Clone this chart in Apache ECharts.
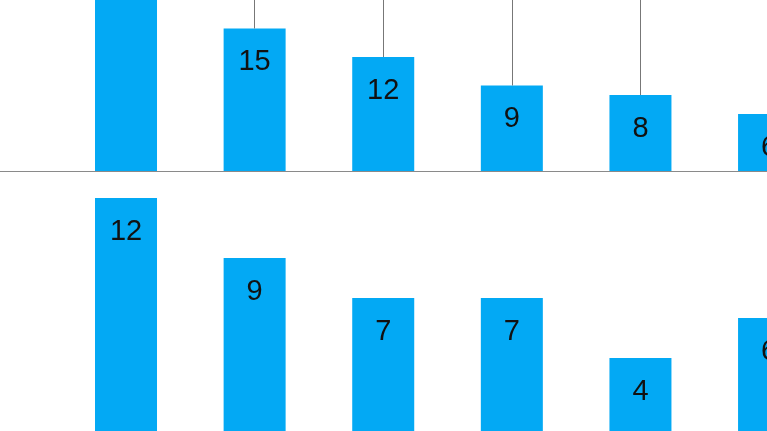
<!DOCTYPE html>
<html>
<head>
<meta charset="utf-8">
<script src="https://cdn.jsdelivr.net/npm/echarts@6/dist/echarts.min.js"></script>
<style>
html,body{margin:0;padding:0;background:#fff;}
#chart{width:767px;height:431px;}
</style>
</head>
<body>
<div id="chart"></div>
<script>
// category positions (1-based slots, the view shows slots 1..6)
const categories = [1, 2, 3, 4, 5, 6];
const topValues = [25, 15, 12, 9, 8, 6];
const bottomValues = [12, 9, 7, 7, 4, 6];
const topMax = 18;
const bottomMin = 0.35;   // the bottom panel's baseline lies just below the visible area
const bottomMax = 13;

const barColor = '#03A9F4';
const labelStyle = {
  show: true,
  position: 'insideTop',
  distance: 19,
  color: '#111',
  fontSize: 29,
  fontFamily: '"Liberation Sans Narrow", "Liberation Sans", Arial, sans-serif'
};

const chart = echarts.init(document.getElementById('chart'), null, {renderer: 'canvas'});

const xAxisBase = {
  type: 'value', min: 0.0202, max: 5.984,
  axisLabel: {show: false}, axisTick: {show: false}, splitLine: {show: false}
};

chart.setOption({
  animation: false,
  grid: [
    {left: 0, right: 0, top: 0, height: 171},
    {left: 0, right: 0, top: 178, bottom: 0}
  ],
  xAxis: [
    Object.assign({gridIndex: 0, axisLine: {show: true, lineStyle: {color: '#8a8a8a', width: 1.2}}}, xAxisBase),
    Object.assign({gridIndex: 1, axisLine: {show: false}}, xAxisBase)
  ],
  yAxis: [
    {gridIndex: 0, type: 'value', min: 0, max: topMax, show: false, splitLine: {show: false}},
    {gridIndex: 1, type: 'value', min: bottomMin, max: bottomMax, show: false, splitLine: {show: false}}
  ],
  series: [
    {
      type: 'bar', xAxisIndex: 0, yAxisIndex: 0, clip: false,
      barWidth: 62,
      itemStyle: {color: barColor},
      label: labelStyle,
      data: categories.map((c, i) => [c, topValues[i]]),
      markLine: {
        symbol: 'none', silent: true, label: {show: false},
        lineStyle: {color: '#777', width: 1, type: 'solid'},
        data: categories
          .map((c, i) => [{coord: [c, topValues[i]]}, {coord: [c, topMax]}])
          .filter((d, i) => topValues[i] < topMax)
      }
    },
    {
      type: 'bar', xAxisIndex: 1, yAxisIndex: 1, clip: true,
      barWidth: 62,
      itemStyle: {color: barColor},
      label: labelStyle,
      data: categories.map((c, i) => [c, bottomValues[i]])
    }
  ]
});
</script>
</body>
</html>
